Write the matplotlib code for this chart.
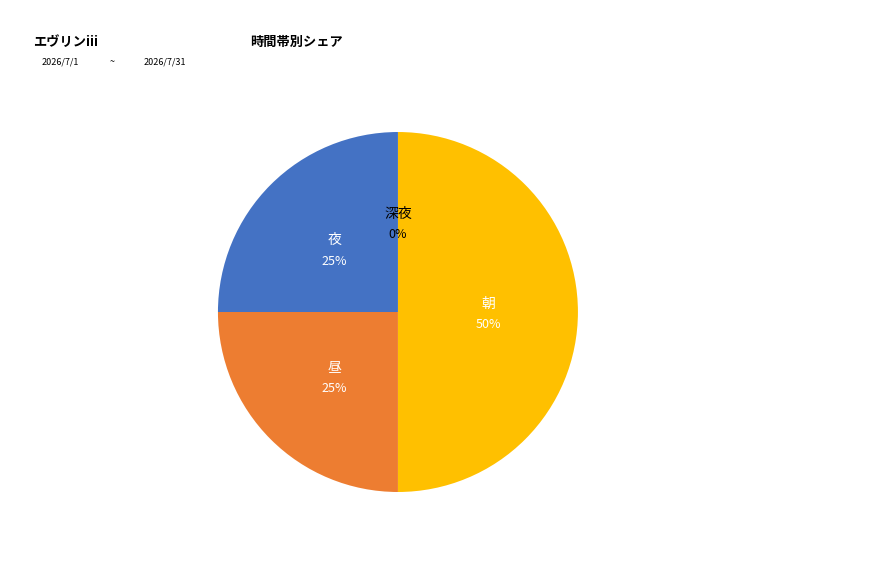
import numpy as np
import matplotlib
matplotlib.use("Agg")
import matplotlib.pyplot as plt

plt.rcParams['font.family'] = ['Noto Sans CJK JP', 'DejaVu Sans']

categories = ["朝", "昼", "夜", "深夜"]
values = [50, 25, 25, 0]
colors = ["#FFC000", "#ED7D31", "#4472C4", "#A5A5A5"]
label_colors = ["white", "white", "white", "black"]

fig = plt.figure(figsize=(8.77, 5.78), dpi=100)
ax = fig.add_axes([0.4538 - 0.2053, 0.4602 - 0.3114, 0.4105, 0.6228])
wedges, _ = ax.pie(values, colors=colors, startangle=90, counterclock=False,
                   radius=1.0, wedgeprops=dict(linewidth=0))
ax.set_xlim(-1, 1)
ax.set_ylim(-1, 1)
ax.set_aspect('equal')
ax.axis('off')

total = sum(values)
for w, cat, v, tc in zip(wedges, categories, values, label_colors):
    ang = np.deg2rad((w.theta1 + w.theta2) / 2)
    r = 0.5
    x, y = r * np.cos(ang), r * np.sin(ang)
    pct = f"{v / total * 100:.0f}%"
    ax.text(x, y + 0.045, cat, ha='center', va='center', color=tc, fontsize=10)
    ax.text(x, y - 0.072, pct, ha='center', va='center', color=tc, fontsize=9)

fig.text(33 / 877, 1 - 42 / 578, "エヴリンiii", fontsize=9.5, fontweight='bold', va='center', ha='left')
fig.text(250 / 877, 1 - 42 / 578, "時間帯別シェア", fontsize=9.5, fontweight='bold', va='center', ha='left')
fig.text(42 / 877, 1 - 62 / 578, "2026/7/1", fontsize=6.5, va='center', ha='left')
fig.text(110 / 877, 1 - 62 / 578, "~", fontsize=6.5, va='center', ha='left')
fig.text(144 / 877, 1 - 62 / 578, "2026/7/31", fontsize=6.5, va='center', ha='left')

fig.savefig("out.png", dpi=100)
